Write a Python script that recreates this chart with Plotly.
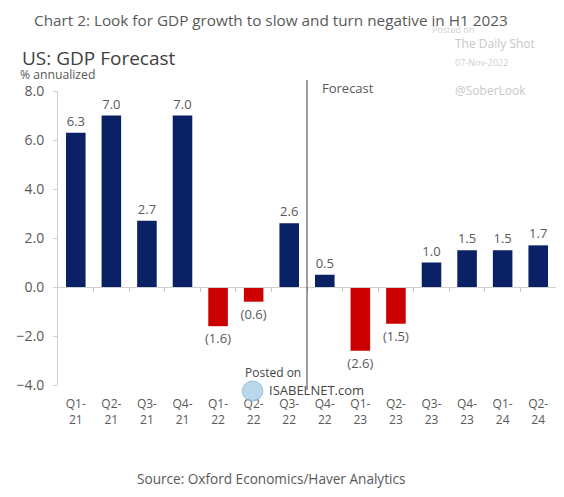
import plotly.graph_objects as go

# quarters and annualized GDP growth (%)
quarters = ["Q1-21", "Q2-21", "Q3-21", "Q4-21", "Q1-22", "Q2-22", "Q3-22",
            "Q4-22", "Q1-23", "Q2-23", "Q3-23", "Q4-23", "Q1-24", "Q2-24"]
gdp = [6.3, 7.0, 2.7, 7.0, -1.6, -0.6, 2.6, 0.5, -2.6, -1.5, 1.0, 1.5, 1.5, 1.7]
y_ticks = [-4.0, -2.0, 0.0, 2.0, 4.0, 6.0, 8.0]

NAVY = "#0b2165"
RED = "#cc0000"
GREY = "#595959"
FONT = "Open Sans"

OFF = 8  # page body margin
W, H = 564 - OFF, 497 - OFF
L, R, T, B = 48 - OFF, 8, 91 - OFF, 112


def paper(px, py):
    # screen pixel position -> paper coords of the plot area
    px, py = px - OFF, py - OFF
    return (px - L) / (W - L - R), (H - B - py) / (H - T - B)


labels = [f"({abs(v):.1f})" if v < 0 else f"{v:.1f}" for v in gdp]
colors = [RED if v < 0 else NAVY for v in gdp]
ticktext = [q.replace("-", "-<br>") for q in quarters]

fig = go.Figure()
fig.add_trace(go.Bar(
    x=list(range(len(quarters))), y=gdp,
    marker=dict(color=colors, line=dict(width=0)),
    text=labels, textposition="outside", cliponaxis=False, constraintext="none",
    textfont=dict(family=FONT, size=13, color=GREY),
    hoverinfo="skip", showlegend=False,
))

# forecast divider between Q3-22 and Q4-22 (reaches a bit above/below the plot)
fig.add_shape(type="line", xref="x", yref="paper", x0=6.5, x1=6.5,
              y0=paper(0, 390)[1], y1=paper(0, 80)[1],
              line=dict(color="#404040", width=1))

annos = [
    dict(text="Chart 2: Look for GDP growth to slow and turn negative in H1 2023",
         pos=(265, 8), size=15.3, color=GREY, xanchor="center", yanchor="top"),
    dict(text="US: GDP Forecast", pos=(9, 58), size=19, color="#404040", xanchor="left"),
    dict(text="% annualized", pos=(7, 75), size=12.2, color=GREY, xanchor="left"),
    dict(text="Forecast", pos=(315, 88), size=13, color=GREY, xanchor="left"),
    dict(text="Posted on", pos=(427, 29), size=9, color="#d0d0d0", xanchor="left"),
    dict(text="The Daily Shot", pos=(451, 43), size=12, color="#c8c8c8", xanchor="left"),
    dict(text="07-Nov-2022", pos=(451, 62), size=9, color="#d0d0d0", xanchor="left"),
    dict(text="@SoberLook", pos=(451, 90), size=12, color="#c8c8c8", xanchor="left"),
    dict(text="Posted on", pos=(237, 372), size=12, color="#444444", xanchor="left"),
    dict(text="ISABELNET.com", pos=(261, 390), size=13, color="#444444", xanchor="left"),
    dict(text="Source: Oxford Economics/Haver Analytics", pos=(265, 478), size=13.6,
         color=GREY, xanchor="center"),
]
for a in annos:
    x, y = paper(*a["pos"])
    fig.add_annotation(text=a["text"], x=x, y=y, xref="paper", yref="paper",
                       xanchor=a["xanchor"], yanchor=a.get("yanchor", "middle"),
                       showarrow=False,
                       font=dict(family=FONT, size=a["size"], color=a["color"]))

# little globe next to ISABELNET
gx0, gy0 = paper(236, 401)
gx1, gy1 = paper(257, 381)
fig.add_shape(type="circle", xref="paper", yref="paper", x0=gx0, x1=gx1, y0=gy0, y1=gy1,
              fillcolor="#a9cfe8", line=dict(color="#7fb2d6", width=1), opacity=0.8)

fig.update_layout(
    width=W, height=H,
    margin=dict(l=L, r=R, t=T, b=B),
    paper_bgcolor="white", plot_bgcolor="white",
    bargap=0.45,
    font=dict(family=FONT, color=GREY),
    xaxis=dict(
        range=[-0.5, len(quarters) - 0.5],
        tickvals=list(range(len(quarters))), ticktext=ticktext,
        tickfont=dict(size=12, color=GREY), ticklabelstandoff=10,
        showgrid=False, zeroline=False, showline=False, ticks="",
    ),
    # second x axis only for the baseline with ticks at y = 0
    xaxis2=dict(
        overlaying="x", anchor="free", position=1 / 3,
        range=[-0.5, len(quarters) - 0.5],
        tickvals=[i + 0.5 for i in range(len(quarters) - 1)],
        showticklabels=False, ticks="outside", ticklen=4, tickcolor="#c8c8c8",
        showline=True, linecolor="#d0d0d0", linewidth=1, showgrid=False, zeroline=False,
    ),
    yaxis=dict(
        range=[-4, 8], tickvals=y_ticks, tickformat=".1f",
        tickfont=dict(size=14, color=GREY), ticklabelstandoff=6,
        showgrid=False, zeroline=False,
        showline=True, linecolor="#d0d0d0", linewidth=1,
        ticks="outside", ticklen=4, tickcolor="#d0d0d0",
    ),
)
# dummy trace so xaxis2 gets drawn
fig.add_trace(go.Scatter(x=[None], y=[None], xaxis="x2", showlegend=False, hoverinfo="skip"))

fig.write_html("out.html")
